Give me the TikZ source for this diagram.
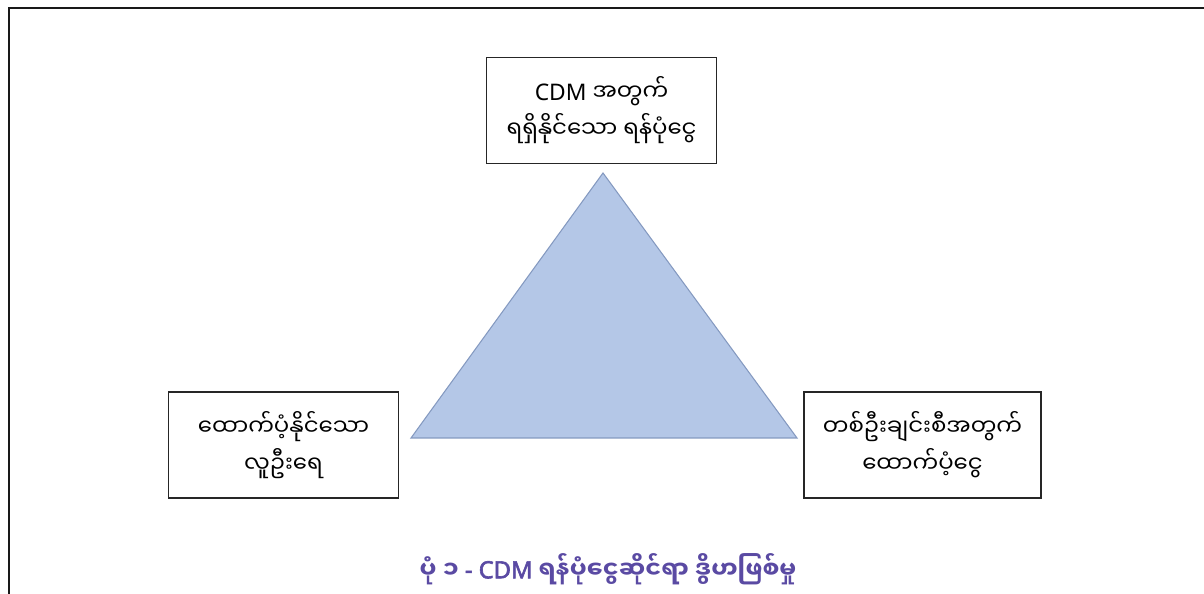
\documentclass[tikz,border=0pt]{standalone}
\usepackage{fontspec}
\setmainfont{Noto Sans}
\newfontfamily\latinfont{Noto Sans}[AutoFakeBold=2.5]
\newfontfamily\mmfont[Script=Myanmar]{Noto Sans Myanmar UI}
\usetikzlibrary{positioning}

\definecolor{trifill}{HTML}{B4C7E7}
\definecolor{triline}{HTML}{8499C0}
\definecolor{captioncol}{HTML}{5A4AA3}

\tikzset{
  fundbox/.style={draw=black!85, line width=0.9pt, align=center,
    minimum width=4.6cm, minimum height=2.12cm, inner sep=2pt,
    font=\fontsize{13}{21}\selectfont\mmfont},
}

\begin{document}
\begin{tikzpicture}[x=0.02cm, y=-0.02cm]
    \useasboundingbox (0,0) rectangle (1204,594);

    % Frame
    \draw[line width=1.7pt, black!90] (9,594) -- (9,8) -- (1204,8);

    % Triangle
    \coordinate (apex) at (603,173);
    \coordinate (baseL) at (411,438);
    \coordinate (baseR) at (797,438);
    \draw[fill=trifill, draw=triline, line width=0.6pt] (apex) -- (baseL) -- (baseR) -- cycle;

    % Boxes
    \node[fundbox] (funds) at (601.5,110.5) {{\latinfont CDM} အတွက်\\ရရှိနိုင်သော ရန်ပုံငွေ};
    \node[fundbox] (people) at (283.5,445) {ထောက်ပံ့နိုင်သော\\လူဦးရေ};
    \node[fundbox, minimum width=4.74cm] (grant) at (922.5,445) {တစ်ဦးချင်းစီအတွက်\\ထောက်ပံ့ငွေ};

    % Caption
    \node[text=captioncol, font=\fontsize{13.5}{16}\selectfont\bfseries\mmfont] (caption) at (608,569)
      {ပုံ ၁ {\latinfont\bfseries - CDM} ရန်ပုံငွေဆိုင်ရာ ဒွိဟဖြစ်မှု};
\end{tikzpicture}
\end{document}
